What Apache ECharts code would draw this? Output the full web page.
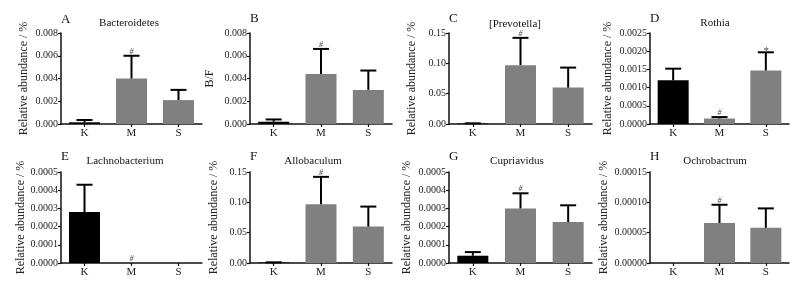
<!DOCTYPE html>
<html>
<head>
<meta charset="utf-8">
<script src="https://cdn.jsdelivr.net/npm/echarts@6/dist/echarts.min.js"></script>
<style>
html,body{margin:0;padding:0;background:#fff;}
#chart{width:803px;height:281px;}
</style>
</head>
<body>
<div id="chart"></div>
<script>
// ---- data ----
const categories = ['K', 'M', 'S'];
const panelLetters = ['A', 'B', 'C', 'D', 'E', 'F', 'G', 'H'];
const panelTitles = ['Bacteroidetes', '', '[Prevotella]', 'Rothia', 'Lachnobacterium', 'Allobaculum', 'Cupriavidus', 'Ochrobactrum'];
const yAxisNames = ['Relative abundance / %', 'B/F', 'Relative abundance / %', 'Relative abundance / %',
                    'Relative abundance / %', 'Relative abundance / %', 'Relative abundance / %', 'Relative abundance / %'];
const yMax = [0.008, 0.008, 0.15, 0.0025, 0.0005, 0.15, 0.0005, 0.00015];
const yStep = [0.002, 0.002, 0.05, 0.0005, 0.0001, 0.05, 0.0001, 0.00005];
const yDecimals = [3, 3, 2, 4, 4, 2, 4, 5];

const meansA = [0.00015, 0.0040, 0.0021];
const meansB = [0.0002, 0.0044, 0.0030];
const meansC = [0.0008, 0.097, 0.060];
const meansD = [0.0012, 0.00015, 0.00147];
const meansE = [0.00028, 0, 0];
const meansF = [0.0008, 0.097, 0.060];
const meansG = [0.00004, 0.00030, 0.000225];
const meansH = [0, 0.000066, 0.000058];

const sdA = [0.0002, 0.0020, 0.0009];
const sdB = [0.0002, 0.0022, 0.0017];
const sdC = [0.0003, 0.045, 0.033];
const sdD = [0.00032, 0.00004, 0.0005];
const sdE = [0.00015, 0, 0];
const sdF = [0.0003, 0.045, 0.033];
const sdG = [0.00002, 0.000083, 0.000092];
const sdH = [0, 0.00003, 0.000032];

const marksA = ['', '#', ''];
const marksB = ['', '#', ''];
const marksC = ['', '#', ''];
const marksD = ['', '#', '*'];
const marksE = ['', '#', ''];
const marksF = ['', '#', ''];
const marksG = ['', '#', ''];
const marksH = ['', '#', ''];

const allMeans = [meansA, meansB, meansC, meansD, meansE, meansF, meansG, meansH];
const allSd = [sdA, sdB, sdC, sdD, sdE, sdF, sdG, sdH];
const allMarks = [marksA, marksB, marksC, marksD, marksE, marksF, marksG, marksH];

// ---- layout / style ----
const FONT = '"Liberation Serif", "Times New Roman", serif';
const barColors = ['#000000', '#808080', '#808080'];
const gridLefts = [61, 250, 449, 650];
const gridWidths = [141, 142, 143, 139];
const rowTops = [33, 172];
const gridHeight = 91;
const nameGaps = [31, 34, 31, 36, 31, 30, 36, 40];
const titleX = [129, 0, 515, 715, 125, 313, 517, 715];
const titleY = [23, 23, 24, 23, 161, 161, 161, 161];
const letterY = [20, 19, 19, 19, 157, 157, 157, 157];

const grids = [], xAxes = [], yAxes = [], series = [], graphics = [];

for (let i = 0; i < 8; i++) {
  const col = i % 4, row = Math.floor(i / 4);
  grids.push({ left: gridLefts[col], top: rowTops[row], width: gridWidths[col], height: gridHeight, containLabel: false });
  xAxes.push({
    type: 'category', gridIndex: i, data: categories,
    axisLine: { lineStyle: { color: '#111', width: 1.5 } },
    axisTick: { show: true, alignWithLabel: true, length: 3, lineStyle: { color: '#111', width: 1.2 } },
    axisLabel: { color: '#222', fontSize: 11, fontFamily: FONT, margin: 4 }
  });
  yAxes.push({
    type: 'value', gridIndex: i, min: 0, max: yMax[i], interval: yStep[i],
    name: yAxisNames[i], nameLocation: 'middle', nameGap: nameGaps[i],
    nameTextStyle: { color: '#222', fontSize: 12, fontFamily: FONT },
    axisLine: { show: true, lineStyle: { color: '#111', width: 1.5 } },
    axisTick: { show: true, length: 3, lineStyle: { color: '#111', width: 1.2 } },
    axisLabel: { color: '#222', fontSize: 10, fontFamily: FONT, margin: 3,
                 formatter: (v) => v.toFixed(yDecimals[i]) },
    splitLine: { show: false }
  });
  series.push({
    type: 'bar', xAxisIndex: i, yAxisIndex: i, barWidth: 31,
    data: allMeans[i].map((v, k) => ({ value: v, itemStyle: { color: barColors[k] } })),
    silent: true, animation: false
  });
  const errData = allMeans[i].map((v, k) => [k, v, v + allSd[i][k], allMarks[i][k], allSd[i][k]]);
  series.push({
    type: 'custom', xAxisIndex: i, yAxisIndex: i, data: errData, z: 10,
    silent: true, animation: false,
    renderItem: function (params, api) {
      const k = api.value(0);
      const base = api.coord([k, api.value(1)]);
      const top = api.coord([k, api.value(2)]);
      const sd = api.value(4);
      const children = [];
      const capHalf = 8;
      if (sd > 0) {
        children.push({ type: 'line', shape: { x1: base[0], y1: base[1], x2: top[0], y2: top[1] },
                        style: { stroke: '#000', lineWidth: 2 } });
        children.push({ type: 'line', shape: { x1: top[0] - capHalf, y1: top[1], x2: top[0] + capHalf, y2: top[1] },
                        style: { stroke: '#000', lineWidth: 2 } });
      }
      const mark = errData[params.dataIndex][3];
      if (mark) {
        const isStar = mark === '*';
        children.push({ type: 'text', x: top[0], y: top[1] - (isStar ? -4 : 0),
          style: { text: mark, fill: '#444', fontSize: isStar ? 11 : 8, fontStyle: 'italic', fontFamily: FONT,
                   align: 'center', verticalAlign: 'bottom' } });
      }
      return { type: 'group', children: children };
    }
  });
  // panel letter
  graphics.push({ type: 'text', x: gridLefts[col], y: letterY[i],
    style: { text: panelLetters[i], fill: '#111', fontSize: 13, fontFamily: FONT, align: 'left', verticalAlign: 'middle' } });
  if (panelTitles[i]) {
    graphics.push({ type: 'text', x: titleX[i], y: titleY[i],
      style: { text: panelTitles[i], fill: '#111', fontSize: 11, fontFamily: FONT, align: 'center', verticalAlign: 'middle' } });
  }
}

const chart = echarts.init(document.getElementById('chart'), null, { renderer: 'canvas' });
chart.setOption({
  backgroundColor: '#ffffff',
  animation: false,
  grid: grids, xAxis: xAxes, yAxis: yAxes, series: series, graphic: graphics
});
</script>
</body>
</html>
